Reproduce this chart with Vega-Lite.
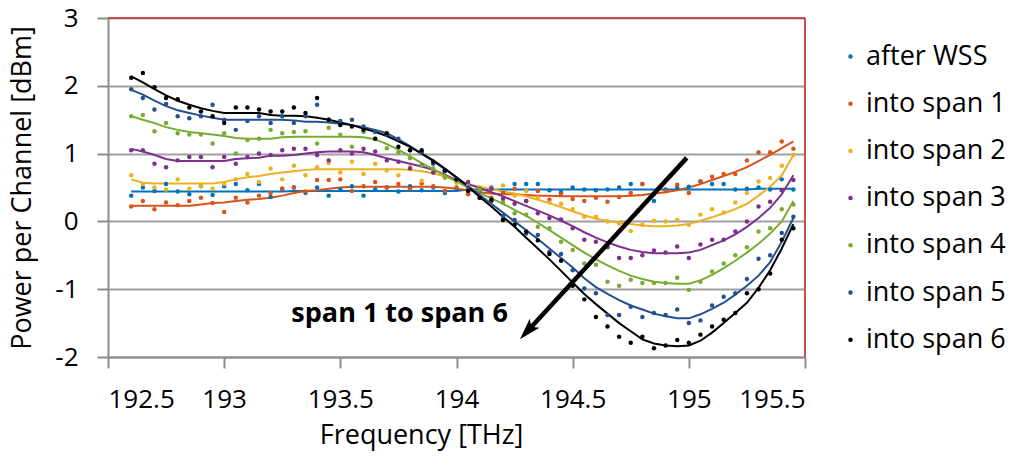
{
"$schema": "https://vega.github.io/schema/vega-lite/v6.json",
"width": 697, "height": 339,
"autosize": {"type": "none"},
"padding": {"left": 108, "top": 18, "right": 204, "bottom": 100},
"background": "white",
"config": {
  "font": "Open Sans",
  "view": {"stroke": null},
  "axis": {"labelFont": "Open Sans", "titleFont": "Open Sans", "labelColor": "#000000", "titleColor": "#000000", "labelFontSize": 26, "titleFontSize": 27, "titleFontWeight": "normal", "domainColor": "#8C8C8C", "domainWidth": 2, "tickColor": "#8C8C8C", "tickWidth": 2, "tickSize": 11, "gridColor": "#A0A0A0", "gridWidth": 2}
},
"resolve": {"legend": {"color": "independent"}},
"datasets": {
"pts": [
{"f":192.6,"s":"after WSS","m":0.38,"l":0.44},{"f":192.65,"s":"after WSS","m":0.5,"l":0.44},{"f":192.7,"s":"after WSS","m":0.45,"l":0.44},{"f":192.75,"s":"after WSS","m":0.55,"l":0.44},{"f":192.8,"s":"after WSS","m":0.44,"l":0.44},{"f":192.85,"s":"after WSS","m":0.4,"l":0.44},{"f":192.9,"s":"after WSS","m":0.52,"l":0.44},{"f":192.95,"s":"after WSS","m":0.39,"l":0.44},{"f":193,"s":"after WSS","m":0.52,"l":0.44},{"f":193.05,"s":"after WSS","m":0.55,"l":0.44},{"f":193.1,"s":"after WSS","m":0.46,"l":0.44},{"f":193.15,"s":"after WSS","m":0.55,"l":0.44},{"f":193.2,"s":"after WSS","m":0.36,"l":0.44},{"f":193.25,"s":"after WSS","m":0.48,"l":0.44},{"f":193.3,"s":"after WSS","m":0.5,"l":0.45},{"f":193.35,"s":"after WSS","m":0.42,"l":0.45},{"f":193.4,"s":"after WSS","m":0.5,"l":0.45},{"f":193.45,"s":"after WSS","m":0.38,"l":0.45},{"f":193.5,"s":"after WSS","m":0.47,"l":0.45},{"f":193.55,"s":"after WSS","m":0.52,"l":0.45},{"f":193.6,"s":"after WSS","m":0.38,"l":0.45},{"f":193.65,"s":"after WSS","m":0.47,"l":0.45},{"f":193.7,"s":"after WSS","m":0.5,"l":0.45},{"f":193.75,"s":"after WSS","m":0.44,"l":0.45},{"f":193.8,"s":"after WSS","m":0.52,"l":0.45},{"f":193.85,"s":"after WSS","m":0.46,"l":0.45},{"f":193.9,"s":"after WSS","m":0.5,"l":0.45},{"f":193.95,"s":"after WSS","m":0.42,"l":0.45},{"f":194,"s":"after WSS","m":0.48,"l":0.45},{"f":194.05,"s":"after WSS","m":0.52,"l":0.47},{"f":194.1,"s":"after WSS","m":0.44,"l":0.47},{"f":194.15,"s":"after WSS","m":0.5,"l":0.47},{"f":194.2,"s":"after WSS","m":0.42,"l":0.47},{"f":194.25,"s":"after WSS","m":0.55,"l":0.47},{"f":194.3,"s":"after WSS","m":0.55,"l":0.47},{"f":194.35,"s":"after WSS","m":0.55,"l":0.47},{"f":194.4,"s":"after WSS","m":0.46,"l":0.47},{"f":194.45,"s":"after WSS","m":0.43,"l":0.47},{"f":194.5,"s":"after WSS","m":0.5,"l":0.47},{"f":194.55,"s":"after WSS","m":0.47,"l":0.47},{"f":194.6,"s":"after WSS","m":0.46,"l":0.47},{"f":194.65,"s":"after WSS","m":0.47,"l":0.47},{"f":194.7,"s":"after WSS","m":0.5,"l":0.47},{"f":194.75,"s":"after WSS","m":0.55,"l":0.47},{"f":194.8,"s":"after WSS","m":0.55,"l":0.47},{"f":194.85,"s":"after WSS","m":0.3,"l":0.47},{"f":194.9,"s":"after WSS","m":0.47,"l":0.47},{"f":194.95,"s":"after WSS","m":0.5,"l":0.47},{"f":195,"s":"after WSS","m":0.51,"l":0.47},{"f":195.05,"s":"after WSS","m":0.59,"l":0.47},{"f":195.1,"s":"after WSS","m":0.55,"l":0.47},{"f":195.15,"s":"after WSS","m":0.55,"l":0.47},{"f":195.2,"s":"after WSS","m":0.47,"l":0.47},{"f":195.25,"s":"after WSS","m":0.48,"l":0.47},{"f":195.3,"s":"after WSS","m":0.5,"l":0.48},{"f":195.35,"s":"after WSS","m":0.47,"l":0.48},{"f":195.4,"s":"after WSS","m":0.62,"l":0.48},{"f":195.45,"s":"after WSS","m":0.47,"l":0.48},
{"f":192.6,"s":"into span 1","m":0.22,"l":0.23},{"f":192.65,"s":"into span 1","m":0.3,"l":0.23},{"f":192.7,"s":"into span 1","m":0.18,"l":0.23},{"f":192.75,"s":"into span 1","m":0.28,"l":0.23},{"f":192.8,"s":"into span 1","m":0.24,"l":0.23},{"f":192.85,"s":"into span 1","m":0.3,"l":0.23},{"f":192.9,"s":"into span 1","m":0.35,"l":0.25},{"f":192.95,"s":"into span 1","m":0.27,"l":0.27},{"f":193,"s":"into span 1","m":0.14,"l":0.28},{"f":193.05,"s":"into span 1","m":0.35,"l":0.3},{"f":193.1,"s":"into span 1","m":0.28,"l":0.32},{"f":193.15,"s":"into span 1","m":0.38,"l":0.33},{"f":193.2,"s":"into span 1","m":0.42,"l":0.35},{"f":193.25,"s":"into span 1","m":0.48,"l":0.38},{"f":193.3,"s":"into span 1","m":0.5,"l":0.42},{"f":193.35,"s":"into span 1","m":0.44,"l":0.45},{"f":193.4,"s":"into span 1","m":0.61,"l":0.46},{"f":193.45,"s":"into span 1","m":0.61,"l":0.48},{"f":193.5,"s":"into span 1","m":0.62,"l":0.5},{"f":193.55,"s":"into span 1","m":0.45,"l":0.51},{"f":193.6,"s":"into span 1","m":0.52,"l":0.51},{"f":193.65,"s":"into span 1","m":0.58,"l":0.51},{"f":193.7,"s":"into span 1","m":0.5,"l":0.51},{"f":193.75,"s":"into span 1","m":0.55,"l":0.51},{"f":193.8,"s":"into span 1","m":0.48,"l":0.51},{"f":193.85,"s":"into span 1","m":0.56,"l":0.51},{"f":193.9,"s":"into span 1","m":0.52,"l":0.51},{"f":193.95,"s":"into span 1","m":0.45,"l":0.5},{"f":194,"s":"into span 1","m":0.5,"l":0.48},{"f":194.05,"s":"into span 1","m":0.4,"l":0.46},{"f":194.1,"s":"into span 1","m":0.45,"l":0.43},{"f":194.15,"s":"into span 1","m":0.35,"l":0.41},{"f":194.2,"s":"into span 1","m":0.42,"l":0.4},{"f":194.25,"s":"into span 1","m":0.48,"l":0.4},{"f":194.3,"s":"into span 1","m":0.3,"l":0.39},{"f":194.35,"s":"into span 1","m":0.45,"l":0.38},{"f":194.4,"s":"into span 1","m":0.32,"l":0.38},{"f":194.45,"s":"into span 1","m":0.4,"l":0.37},{"f":194.5,"s":"into span 1","m":0.33,"l":0.37},{"f":194.55,"s":"into span 1","m":0.3,"l":0.37},{"f":194.6,"s":"into span 1","m":0.35,"l":0.37},{"f":194.65,"s":"into span 1","m":0.29,"l":0.37},{"f":194.7,"s":"into span 1","m":0.36,"l":0.37},{"f":194.75,"s":"into span 1","m":0.42,"l":0.38},{"f":194.8,"s":"into span 1","m":0.55,"l":0.39},{"f":194.85,"s":"into span 1","m":0.4,"l":0.41},{"f":194.9,"s":"into span 1","m":0.45,"l":0.43},{"f":194.95,"s":"into span 1","m":0.54,"l":0.46},{"f":195,"s":"into span 1","m":0.42,"l":0.5},{"f":195.05,"s":"into span 1","m":0.59,"l":0.55},{"f":195.1,"s":"into span 1","m":0.66,"l":0.61},{"f":195.15,"s":"into span 1","m":0.7,"l":0.67},{"f":195.2,"s":"into span 1","m":0.7,"l":0.73},{"f":195.25,"s":"into span 1","m":0.9,"l":0.8},{"f":195.3,"s":"into span 1","m":1.02,"l":0.89},{"f":195.35,"s":"into span 1","m":1.02,"l":0.98},{"f":195.4,"s":"into span 1","m":1.18,"l":1.08},{"f":195.45,"s":"into span 1","m":1.07,"l":1.18},
{"f":192.6,"s":"into span 2","m":0.68,"l":0.62},{"f":192.65,"s":"into span 2","m":0.55,"l":0.57},{"f":192.7,"s":"into span 2","m":0.5,"l":0.56},{"f":192.75,"s":"into span 2","m":0.47,"l":0.56},{"f":192.8,"s":"into span 2","m":0.62,"l":0.56},{"f":192.85,"s":"into span 2","m":0.48,"l":0.56},{"f":192.9,"s":"into span 2","m":0.52,"l":0.56},{"f":192.95,"s":"into span 2","m":0.48,"l":0.56},{"f":193,"s":"into span 2","m":0.55,"l":0.58},{"f":193.05,"s":"into span 2","m":0.62,"l":0.62},{"f":193.1,"s":"into span 2","m":0.7,"l":0.65},{"f":193.15,"s":"into span 2","m":0.58,"l":0.67},{"f":193.2,"s":"into span 2","m":0.78,"l":0.7},{"f":193.25,"s":"into span 2","m":0.62,"l":0.72},{"f":193.3,"s":"into span 2","m":0.82,"l":0.74},{"f":193.35,"s":"into span 2","m":0.68,"l":0.76},{"f":193.4,"s":"into span 2","m":0.8,"l":0.77},{"f":193.45,"s":"into span 2","m":0.86,"l":0.77},{"f":193.5,"s":"into span 2","m":0.72,"l":0.77},{"f":193.55,"s":"into span 2","m":0.88,"l":0.77},{"f":193.6,"s":"into span 2","m":0.7,"l":0.77},{"f":193.65,"s":"into span 2","m":0.85,"l":0.77},{"f":193.7,"s":"into span 2","m":0.75,"l":0.77},{"f":193.75,"s":"into span 2","m":0.68,"l":0.77},{"f":193.8,"s":"into span 2","m":0.8,"l":0.76},{"f":193.85,"s":"into span 2","m":0.6,"l":0.74},{"f":193.9,"s":"into span 2","m":0.72,"l":0.71},{"f":193.95,"s":"into span 2","m":0.64,"l":0.66},{"f":194,"s":"into span 2","m":0.57,"l":0.6},{"f":194.05,"s":"into span 2","m":0.52,"l":0.55},{"f":194.1,"s":"into span 2","m":0.5,"l":0.51},{"f":194.15,"s":"into span 2","m":0.49,"l":0.48},{"f":194.2,"s":"into span 2","m":0.53,"l":0.44},{"f":194.25,"s":"into span 2","m":0.38,"l":0.41},{"f":194.3,"s":"into span 2","m":0.45,"l":0.37},{"f":194.35,"s":"into span 2","m":0.35,"l":0.32},{"f":194.4,"s":"into span 2","m":0.28,"l":0.27},{"f":194.45,"s":"into span 2","m":0.26,"l":0.21},{"f":194.5,"s":"into span 2","m":0.18,"l":0.15},{"f":194.55,"s":"into span 2","m":0.07,"l":0.09},{"f":194.6,"s":"into span 2","m":0.07,"l":0.04},{"f":194.65,"s":"into span 2","m":0.0,"l":0.01},{"f":194.7,"s":"into span 2","m":-0.03,"l":-0.02},{"f":194.75,"s":"into span 2","m":-0.14,"l":-0.04},{"f":194.8,"s":"into span 2","m":-0.05,"l":-0.06},{"f":194.85,"s":"into span 2","m":0.01,"l":-0.07},{"f":194.9,"s":"into span 2","m":0.0,"l":-0.07},{"f":194.95,"s":"into span 2","m":0.02,"l":-0.06},{"f":195,"s":"into span 2","m":-0.05,"l":-0.04},{"f":195.05,"s":"into span 2","m":0.1,"l":0.01},{"f":195.1,"s":"into span 2","m":0.18,"l":0.06},{"f":195.15,"s":"into span 2","m":0.13,"l":0.12},{"f":195.2,"s":"into span 2","m":0.28,"l":0.18},{"f":195.25,"s":"into span 2","m":0.42,"l":0.26},{"f":195.3,"s":"into span 2","m":0.59,"l":0.38},{"f":195.35,"s":"into span 2","m":0.64,"l":0.51},{"f":195.4,"s":"into span 2","m":0.82,"l":0.68},{"f":195.45,"s":"into span 2","m":0.98,"l":0.98},
{"f":192.6,"s":"into span 3","m":1.05,"l":1.07},{"f":192.65,"s":"into span 3","m":1.05,"l":1.03},{"f":192.7,"s":"into span 3","m":0.85,"l":0.98},{"f":192.75,"s":"into span 3","m":0.8,"l":0.92},{"f":192.8,"s":"into span 3","m":0.9,"l":0.89},{"f":192.85,"s":"into span 3","m":0.95,"l":0.89},{"f":192.9,"s":"into span 3","m":0.95,"l":0.89},{"f":192.95,"s":"into span 3","m":0.8,"l":0.89},{"f":193,"s":"into span 3","m":0.95,"l":0.89},{"f":193.05,"s":"into span 3","m":0.85,"l":0.92},{"f":193.1,"s":"into span 3","m":0.95,"l":0.93},{"f":193.15,"s":"into span 3","m":1.0,"l":0.94},{"f":193.2,"s":"into span 3","m":0.98,"l":0.97},{"f":193.25,"s":"into span 3","m":1.05,"l":0.97},{"f":193.3,"s":"into span 3","m":1.07,"l":0.98},{"f":193.35,"s":"into span 3","m":1.07,"l":1.0},{"f":193.4,"s":"into span 3","m":0.98,"l":1.02},{"f":193.45,"s":"into span 3","m":0.9,"l":1.03},{"f":193.5,"s":"into span 3","m":1.05,"l":1.03},{"f":193.55,"s":"into span 3","m":1.0,"l":1.03},{"f":193.6,"s":"into span 3","m":1.07,"l":1.02},{"f":193.65,"s":"into span 3","m":1.03,"l":0.98},{"f":193.7,"s":"into span 3","m":0.9,"l":0.93},{"f":193.75,"s":"into span 3","m":0.88,"l":0.89},{"f":193.8,"s":"into span 3","m":0.78,"l":0.85},{"f":193.85,"s":"into span 3","m":0.83,"l":0.81},{"f":193.9,"s":"into span 3","m":0.72,"l":0.76},{"f":193.95,"s":"into span 3","m":0.74,"l":0.69},{"f":194,"s":"into span 3","m":0.62,"l":0.61},{"f":194.05,"s":"into span 3","m":0.58,"l":0.55},{"f":194.1,"s":"into span 3","m":0.48,"l":0.49},{"f":194.15,"s":"into span 3","m":0.48,"l":0.43},{"f":194.2,"s":"into span 3","m":0.33,"l":0.37},{"f":194.25,"s":"into span 3","m":0.26,"l":0.3},{"f":194.3,"s":"into span 3","m":0.3,"l":0.23},{"f":194.35,"s":"into span 3","m":0.12,"l":0.16},{"f":194.4,"s":"into span 3","m":0.05,"l":0.09},{"f":194.45,"s":"into span 3","m":0.03,"l":0.01},{"f":194.5,"s":"into span 3","m":-0.1,"l":-0.07},{"f":194.55,"s":"into span 3","m":-0.27,"l":-0.16},{"f":194.6,"s":"into span 3","m":-0.3,"l":-0.24},{"f":194.65,"s":"into span 3","m":-0.38,"l":-0.31},{"f":194.7,"s":"into span 3","m":-0.54,"l":-0.37},{"f":194.75,"s":"into span 3","m":-0.54,"l":-0.42},{"f":194.8,"s":"into span 3","m":-0.5,"l":-0.45},{"f":194.85,"s":"into span 3","m":-0.43,"l":-0.47},{"f":194.9,"s":"into span 3","m":-0.46,"l":-0.47},{"f":194.95,"s":"into span 3","m":-0.37,"l":-0.47},{"f":195,"s":"into span 3","m":-0.54,"l":-0.46},{"f":195.05,"s":"into span 3","m":-0.34,"l":-0.42},{"f":195.1,"s":"into span 3","m":-0.27,"l":-0.35},{"f":195.15,"s":"into span 3","m":-0.27,"l":-0.28},{"f":195.2,"s":"into span 3","m":-0.15,"l":-0.19},{"f":195.25,"s":"into span 3","m":0.0,"l":-0.08},{"f":195.3,"s":"into span 3","m":0.22,"l":0.05},{"f":195.35,"s":"into span 3","m":0.29,"l":0.2},{"f":195.4,"s":"into span 3","m":0.46,"l":0.4},{"f":195.45,"s":"into span 3","m":0.61,"l":0.68},
{"f":192.6,"s":"into span 4","m":1.55,"l":1.55},{"f":192.65,"s":"into span 4","m":1.57,"l":1.5},{"f":192.7,"s":"into span 4","m":1.33,"l":1.45},{"f":192.75,"s":"into span 4","m":1.45,"l":1.39},{"f":192.8,"s":"into span 4","m":1.3,"l":1.35},{"f":192.85,"s":"into span 4","m":1.28,"l":1.32},{"f":192.9,"s":"into span 4","m":1.28,"l":1.3},{"f":192.95,"s":"into span 4","m":1.15,"l":1.28},{"f":193,"s":"into span 4","m":1.3,"l":1.26},{"f":193.05,"s":"into span 4","m":1.0,"l":1.23},{"f":193.1,"s":"into span 4","m":1.2,"l":1.22},{"f":193.15,"s":"into span 4","m":1.22,"l":1.22},{"f":193.2,"s":"into span 4","m":1.35,"l":1.22},{"f":193.25,"s":"into span 4","m":1.3,"l":1.24},{"f":193.3,"s":"into span 4","m":1.32,"l":1.25},{"f":193.35,"s":"into span 4","m":1.33,"l":1.25},{"f":193.4,"s":"into span 4","m":1.15,"l":1.25},{"f":193.45,"s":"into span 4","m":1.38,"l":1.25},{"f":193.5,"s":"into span 4","m":1.28,"l":1.25},{"f":193.55,"s":"into span 4","m":1.1,"l":1.25},{"f":193.6,"s":"into span 4","m":1.32,"l":1.24},{"f":193.65,"s":"into span 4","m":1.22,"l":1.21},{"f":193.7,"s":"into span 4","m":1.08,"l":1.14},{"f":193.75,"s":"into span 4","m":1.02,"l":1.06},{"f":193.8,"s":"into span 4","m":0.93,"l":0.96},{"f":193.85,"s":"into span 4","m":0.82,"l":0.86},{"f":193.9,"s":"into span 4","m":0.78,"l":0.77},{"f":193.95,"s":"into span 4","m":0.65,"l":0.68},{"f":194,"s":"into span 4","m":0.6,"l":0.59},{"f":194.05,"s":"into span 4","m":0.45,"l":0.5},{"f":194.1,"s":"into span 4","m":0.47,"l":0.42},{"f":194.15,"s":"into span 4","m":0.3,"l":0.34},{"f":194.2,"s":"into span 4","m":0.28,"l":0.26},{"f":194.25,"s":"into span 4","m":0.12,"l":0.17},{"f":194.3,"s":"into span 4","m":0.1,"l":0.08},{"f":194.35,"s":"into span 4","m":-0.08,"l":-0.02},{"f":194.4,"s":"into span 4","m":-0.1,"l":-0.13},{"f":194.45,"s":"into span 4","m":-0.3,"l":-0.24},{"f":194.5,"s":"into span 4","m":-0.42,"l":-0.35},{"f":194.55,"s":"into span 4","m":-0.62,"l":-0.46},{"f":194.6,"s":"into span 4","m":-0.64,"l":-0.56},{"f":194.65,"s":"into span 4","m":-0.89,"l":-0.65},{"f":194.7,"s":"into span 4","m":-0.95,"l":-0.73},{"f":194.75,"s":"into span 4","m":-0.86,"l":-0.8},{"f":194.8,"s":"into span 4","m":-0.91,"l":-0.85},{"f":194.85,"s":"into span 4","m":-0.91,"l":-0.89},{"f":194.9,"s":"into span 4","m":-0.91,"l":-0.91},{"f":194.95,"s":"into span 4","m":-0.83,"l":-0.92},{"f":195,"s":"into span 4","m":-1.01,"l":-0.92},{"f":195.05,"s":"into span 4","m":-0.89,"l":-0.87},{"f":195.1,"s":"into span 4","m":-0.74,"l":-0.79},{"f":195.15,"s":"into span 4","m":-0.62,"l":-0.69},{"f":195.2,"s":"into span 4","m":-0.5,"l":-0.58},{"f":195.25,"s":"into span 4","m":-0.38,"l":-0.46},{"f":195.3,"s":"into span 4","m":-0.15,"l":-0.33},{"f":195.35,"s":"into span 4","m":-0.1,"l":-0.18},{"f":195.4,"s":"into span 4","m":0.18,"l":0.0},{"f":195.45,"s":"into span 4","m":0.25,"l":0.3},
{"f":192.6,"s":"into span 5","m":1.95,"l":1.94},{"f":192.65,"s":"into span 5","m":1.82,"l":1.87},{"f":192.7,"s":"into span 5","m":1.65,"l":1.78},{"f":192.75,"s":"into span 5","m":1.73,"l":1.7},{"f":192.8,"s":"into span 5","m":1.55,"l":1.64},{"f":192.85,"s":"into span 5","m":1.52,"l":1.6},{"f":192.9,"s":"into span 5","m":1.55,"l":1.56},{"f":192.95,"s":"into span 5","m":1.72,"l":1.53},{"f":193,"s":"into span 5","m":1.5,"l":1.5},{"f":193.05,"s":"into span 5","m":1.35,"l":1.5},{"f":193.1,"s":"into span 5","m":1.48,"l":1.5},{"f":193.15,"s":"into span 5","m":1.55,"l":1.5},{"f":193.2,"s":"into span 5","m":1.45,"l":1.5},{"f":193.25,"s":"into span 5","m":1.55,"l":1.5},{"f":193.3,"s":"into span 5","m":1.45,"l":1.49},{"f":193.35,"s":"into span 5","m":1.55,"l":1.47},{"f":193.4,"s":"into span 5","m":1.72,"l":1.47},{"f":193.45,"s":"into span 5","m":1.5,"l":1.46},{"f":193.5,"s":"into span 5","m":1.48,"l":1.44},{"f":193.55,"s":"into span 5","m":1.5,"l":1.42},{"f":193.6,"s":"into span 5","m":1.4,"l":1.39},{"f":193.65,"s":"into span 5","m":1.32,"l":1.35},{"f":193.7,"s":"into span 5","m":1.28,"l":1.3},{"f":193.75,"s":"into span 5","m":1.22,"l":1.21},{"f":193.8,"s":"into span 5","m":1.05,"l":1.11},{"f":193.85,"s":"into span 5","m":1.02,"l":1.0},{"f":193.9,"s":"into span 5","m":0.85,"l":0.89},{"f":193.95,"s":"into span 5","m":0.75,"l":0.77},{"f":194,"s":"into span 5","m":0.62,"l":0.65},{"f":194.05,"s":"into span 5","m":0.5,"l":0.52},{"f":194.1,"s":"into span 5","m":0.35,"l":0.39},{"f":194.15,"s":"into span 5","m":0.3,"l":0.26},{"f":194.2,"s":"into span 5","m":0.08,"l":0.13},{"f":194.25,"s":"into span 5","m":0.02,"l":0.0},{"f":194.3,"s":"into span 5","m":-0.18,"l":-0.13},{"f":194.35,"s":"into span 5","m":-0.2,"l":-0.26},{"f":194.4,"s":"into span 5","m":-0.45,"l":-0.4},{"f":194.45,"s":"into span 5","m":-0.48,"l":-0.54},{"f":194.5,"s":"into span 5","m":-0.72,"l":-0.68},{"f":194.55,"s":"into span 5","m":-0.99,"l":-0.84},{"f":194.6,"s":"into span 5","m":-1.06,"l":-0.97},{"f":194.65,"s":"into span 5","m":-1.38,"l":-1.07},{"f":194.7,"s":"into span 5","m":-1.38,"l":-1.16},{"f":194.75,"s":"into span 5","m":-1.26,"l":-1.24},{"f":194.8,"s":"into span 5","m":-1.41,"l":-1.3},{"f":194.85,"s":"into span 5","m":-1.35,"l":-1.36},{"f":194.9,"s":"into span 5","m":-1.38,"l":-1.4},{"f":194.95,"s":"into span 5","m":-1.3,"l":-1.43},{"f":195,"s":"into span 5","m":-1.5,"l":-1.43},{"f":195.05,"s":"into span 5","m":-1.46,"l":-1.37},{"f":195.1,"s":"into span 5","m":-1.24,"l":-1.29},{"f":195.15,"s":"into span 5","m":-1.11,"l":-1.2},{"f":195.2,"s":"into span 5","m":-1.06,"l":-1.08},{"f":195.25,"s":"into span 5","m":-0.85,"l":-0.95},{"f":195.3,"s":"into span 5","m":-0.55,"l":-0.8},{"f":195.35,"s":"into span 5","m":-0.5,"l":-0.6},{"f":195.4,"s":"into span 5","m":-0.17,"l":-0.3},{"f":195.45,"s":"into span 5","m":0.07,"l":0.05},
{"f":192.6,"s":"into span 6","m":2.12,"l":2.14},{"f":192.65,"s":"into span 6","m":2.19,"l":2.05},{"f":192.7,"s":"into span 6","m":1.98,"l":1.95},{"f":192.75,"s":"into span 6","m":1.82,"l":1.86},{"f":192.8,"s":"into span 6","m":1.8,"l":1.78},{"f":192.85,"s":"into span 6","m":1.68,"l":1.72},{"f":192.9,"s":"into span 6","m":1.62,"l":1.67},{"f":192.95,"s":"into span 6","m":1.55,"l":1.63},{"f":193,"s":"into span 6","m":1.45,"l":1.6},{"f":193.05,"s":"into span 6","m":1.68,"l":1.6},{"f":193.1,"s":"into span 6","m":1.68,"l":1.6},{"f":193.15,"s":"into span 6","m":1.65,"l":1.6},{"f":193.2,"s":"into span 6","m":1.62,"l":1.57},{"f":193.25,"s":"into span 6","m":1.62,"l":1.56},{"f":193.3,"s":"into span 6","m":1.68,"l":1.56},{"f":193.35,"s":"into span 6","m":1.6,"l":1.55},{"f":193.4,"s":"into span 6","m":1.82,"l":1.53},{"f":193.45,"s":"into span 6","m":1.5,"l":1.5},{"f":193.5,"s":"into span 6","m":1.42,"l":1.46},{"f":193.55,"s":"into span 6","m":1.4,"l":1.42},{"f":193.6,"s":"into span 6","m":1.35,"l":1.37},{"f":193.65,"s":"into span 6","m":1.22,"l":1.32},{"f":193.7,"s":"into span 6","m":1.3,"l":1.26},{"f":193.75,"s":"into span 6","m":1.1,"l":1.18},{"f":193.8,"s":"into span 6","m":1.05,"l":1.1},{"f":193.85,"s":"into span 6","m":1.05,"l":1.0},{"f":193.9,"s":"into span 6","m":0.88,"l":0.9},{"f":193.95,"s":"into span 6","m":0.75,"l":0.78},{"f":194,"s":"into span 6","m":0.62,"l":0.65},{"f":194.05,"s":"into span 6","m":0.45,"l":0.51},{"f":194.1,"s":"into span 6","m":0.35,"l":0.36},{"f":194.15,"s":"into span 6","m":0.32,"l":0.22},{"f":194.2,"s":"into span 6","m":0.02,"l":0.07},{"f":194.25,"s":"into span 6","m":-0.05,"l":-0.08},{"f":194.3,"s":"into span 6","m":-0.15,"l":-0.24},{"f":194.35,"s":"into span 6","m":-0.28,"l":-0.4},{"f":194.4,"s":"into span 6","m":-0.48,"l":-0.56},{"f":194.45,"s":"into span 6","m":-0.58,"l":-0.73},{"f":194.5,"s":"into span 6","m":-0.95,"l":-0.9},{"f":194.55,"s":"into span 6","m":-1.15,"l":-1.07},{"f":194.6,"s":"into span 6","m":-1.41,"l":-1.22},{"f":194.65,"s":"into span 6","m":-1.55,"l":-1.36},{"f":194.7,"s":"into span 6","m":-1.7,"l":-1.5},{"f":194.75,"s":"into span 6","m":-1.79,"l":-1.62},{"f":194.8,"s":"into span 6","m":-1.7,"l":-1.74},{"f":194.85,"s":"into span 6","m":-1.87,"l":-1.8},{"f":194.9,"s":"into span 6","m":-1.83,"l":-1.83},{"f":194.95,"s":"into span 6","m":-1.75,"l":-1.84},{"f":195,"s":"into span 6","m":-1.79,"l":-1.83},{"f":195.05,"s":"into span 6","m":-1.67,"l":-1.76},{"f":195.1,"s":"into span 6","m":-1.55,"l":-1.64},{"f":195.15,"s":"into span 6","m":-1.45,"l":-1.5},{"f":195.2,"s":"into span 6","m":-1.35,"l":-1.35},{"f":195.25,"s":"into span 6","m":-1.06,"l":-1.2},{"f":195.3,"s":"into span 6","m":-1.0,"l":-0.98},{"f":195.35,"s":"into span 6","m":-0.77,"l":-0.72},{"f":195.4,"s":"into span 6","m":-0.27,"l":-0.4},{"f":195.45,"s":"into span 6","m":-0.1,"l":-0.04}
],
"arrow": [{"x1":194.991,"y1":0.937,"x2":194.303,"y2":-1.628,"hx":194.273,"hy":-1.737}],
"note": [{"x":193.755,"y":-1.486,"t":"span 1 to span 6"}]
},
"layer": [
{
  "data": {"name": "pts"},
  "mark": {"type": "line", "strokeWidth": 2},
  "encoding": {
    "x": {"field": "f", "type": "quantitative", "title": "Frequency [THz]",
      "scale": {"domain": [192.5, 195.5], "nice": false, "zero": false},
      "axis": {"values": [192.5, 193, 193.5, 194, 194.5, 195, 195.5], "labelExpr": "'' + datum.value", "grid": false, "labelPadding": 18, "titlePadding": 10, "titleX": 313}},
    "y": {"field": "l", "type": "quantitative", "title": "Power per Channel [dBm]",
      "scale": {"domain": [-2, 3], "nice": false, "zero": false},
      "axis": {"values": [-2, -1, 0, 1, 2, 3], "labelExpr": "'' + datum.value", "grid": true, "labelPadding": 19, "titlePadding": 18}},
    "color": {"field": "s", "type": "nominal", "legend": null,
      "scale": {"domain": ["after WSS", "into span 1", "into span 2", "into span 3", "into span 4", "into span 5", "into span 6"],
                "range": ["#0072BD", "#D95319", "#EDB120", "#7E2F8E", "#77AC30", "#24508F", "#000000"]}},
    "detail": {"field": "s"}
  }
},
{
  "data": {"name": "pts"},
  "mark": {"type": "point", "filled": true, "size": 20, "opacity": 1, "strokeWidth": 0},
  "encoding": {
    "x": {"field": "f", "type": "quantitative", "title": "Frequency [THz]"},
    "y": {"field": "m", "type": "quantitative", "title": "Power per Channel [dBm]"},
    "color": {"field": "s", "type": "nominal",
      "legend": {"orient": "none", "legendX": 729, "legendY": 25, "title": null, "symbolType": "circle", "symbolSize": 20, "symbolStrokeWidth": 0, "labelFont": "Open Sans", "labelFontSize": 27, "labelColor": "#000000", "labelOffset": 2, "rowPadding": 19.2, "padding": 0}}
  }
},
{
  "data": {"values": [{}]},
  "mark": {"type": "rule", "color": "#C0504D", "strokeWidth": 2},
  "encoding": {"y": {"datum": 3}}
},
{
  "data": {"values": [{}]},
  "mark": {"type": "rule", "color": "#C0504D", "strokeWidth": 2},
  "encoding": {"x": {"datum": 195.5}}
},
{
  "data": {"name": "arrow"},
  "mark": {"type": "rule", "color": "#000000", "strokeWidth": 4.5, "strokeCap": "butt"},
  "encoding": {
    "x": {"field": "x1", "type": "quantitative", "title": "Frequency [THz]"},
    "y": {"field": "y1", "type": "quantitative", "title": "Power per Channel [dBm]"},
    "x2": {"field": "x2"},
    "y2": {"field": "y2"}
  }
},
{
  "data": {"name": "arrow"},
  "mark": {"type": "point", "shape": "M0,0L0.55,1.8L0,1.4L-0.55,1.8Z", "size": 576, "angle": 222.6, "filled": true, "color": "#000000", "opacity": 1, "strokeWidth": 0},
  "encoding": {
    "x": {"field": "hx", "type": "quantitative", "title": "Frequency [THz]"},
    "y": {"field": "hy", "type": "quantitative", "title": "Power per Channel [dBm]"}
  }
},
{
  "data": {"name": "note"},
  "mark": {"type": "text", "font": "Open Sans", "fontWeight": "bold", "fontSize": 27, "align": "center", "baseline": "alphabetic", "color": "#000000"},
  "encoding": {
    "x": {"field": "x", "type": "quantitative", "title": "Frequency [THz]"},
    "y": {"field": "y", "type": "quantitative", "title": "Power per Channel [dBm]"},
    "text": {"field": "t"}
  }
}
]
}
